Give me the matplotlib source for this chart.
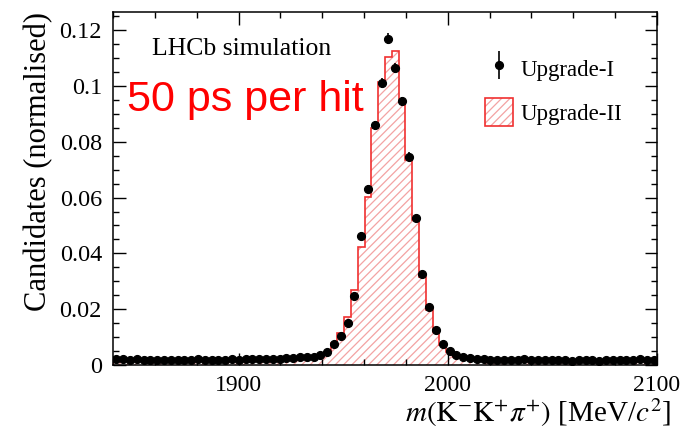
import numpy as np
import matplotlib
matplotlib.use('Agg')
import matplotlib.pyplot as plt
from matplotlib.ticker import MultipleLocator
from matplotlib.patches import Patch
from matplotlib.legend_handler import HandlerErrorbar

# binning of m(K-K+pi+), 80 bins of 3.25 MeV
mass_lo = 1840
mass_hi = 2100
n_bins = 80

# Upgrade-I (points), normalised candidates per bin
upgrade_1 = [0.0022, 0.0021, 0.0019, 0.0020, 0.0018, 0.0019, 0.0017, 0.0018, 0.0019, 0.0018,
             0.0017, 0.0018, 0.0020, 0.0018, 0.0019, 0.0018, 0.0019, 0.0020, 0.0019, 0.0021,
             0.0020, 0.0021, 0.0022, 0.0021, 0.0023, 0.0024, 0.0026, 0.0027, 0.0030, 0.0028,
             0.0036, 0.0048, 0.0075, 0.0104, 0.0152, 0.0247, 0.0462, 0.0630, 0.0859, 0.1012,
             0.1170, 0.1065, 0.0945, 0.0747, 0.0526, 0.0326, 0.0207, 0.0125, 0.0075, 0.0050,
             0.0036, 0.0029, 0.0025, 0.0021, 0.0020, 0.0019, 0.0018, 0.0017, 0.0018, 0.0019,
             0.0020, 0.0019, 0.0018, 0.0017, 0.0017, 0.0018, 0.0017, 0.0016, 0.0018, 0.0017,
             0.0018, 0.0016, 0.0017, 0.0017, 0.0018, 0.0017, 0.0018, 0.0020, 0.0019, 0.0019]

upgrade_1_err = [0.0003] * 30 + [0.0004, 0.0005, 0.0006, 0.0007, 0.0008, 0.0010, 0.0013, 0.0015,
                                 0.0017, 0.0018, 0.0019, 0.0018, 0.0017, 0.0015, 0.0013, 0.0010,
                                 0.0008, 0.0007, 0.0006, 0.0005] + [0.0003] * 30

# Upgrade-II (hatched histogram)
upgrade_2 = [0.0015, 0.0015, 0.0014, 0.0015, 0.0014, 0.0015, 0.0014, 0.0015, 0.0015, 0.0014,
             0.0014, 0.0015, 0.0016, 0.0015, 0.0015, 0.0015, 0.0016, 0.0016, 0.0016, 0.0017,
             0.0017, 0.0018, 0.0018, 0.0018, 0.0019, 0.0020, 0.0021, 0.0021, 0.0022, 0.0025,
             0.0030, 0.0048, 0.0079, 0.0115, 0.0173, 0.0269, 0.0424, 0.0603, 0.0848, 0.1015,
             0.1105, 0.1125, 0.0950, 0.0735, 0.0520, 0.0317, 0.0197, 0.0119, 0.0072, 0.0045,
             0.0030, 0.0024, 0.0020, 0.0018, 0.0017, 0.0016, 0.0016, 0.0015, 0.0015, 0.0015,
             0.0016, 0.0015, 0.0015, 0.0014, 0.0014, 0.0015, 0.0014, 0.0014, 0.0015, 0.0014,
             0.0015, 0.0014, 0.0014, 0.0014, 0.0015, 0.0014, 0.0015, 0.0016, 0.0015, 0.0015]

x_ticks = [1900, 2000, 2100]


def main():
    plt.rcParams['font.family'] = 'Liberation Serif'
    plt.rcParams['mathtext.fontset'] = 'stix'
    plt.rcParams['hatch.linewidth'] = 0.9

    edges = np.linspace(mass_lo, mass_hi, n_bins + 1)
    centers = 0.5 * (edges[1:] + edges[:-1])

    fig = plt.figure(figsize=(6.85, 4.30), dpi=100)
    ax = fig.add_axes([113 / 685, 65 / 430, 544 / 685, 353 / 430])

    hatch_col = '#f3a3a3'
    ax.hist(centers, bins=edges, weights=upgrade_2, histtype='stepfilled',
            facecolor='white', edgecolor=hatch_col, hatch='////', linewidth=0)
    ax.hist(centers, bins=edges, weights=upgrade_2, histtype='step',
            color='#f03030', linewidth=1.2)
    eb = ax.errorbar(centers, upgrade_1, yerr=upgrade_1_err, fmt='o', color='black',
                     markersize=5.6, elinewidth=1.2, capsize=0)

    ax.set_xlim(mass_lo, mass_hi)
    ax.set_ylim(0, 0.1265)
    ax.set_xticks(x_ticks)
    ax.xaxis.set_minor_locator(MultipleLocator(20))
    ax.yaxis.set_minor_locator(MultipleLocator(0.005))
    ax.set_yticks([0, 0.02, 0.04, 0.06, 0.08, 0.1, 0.12])
    ax.set_yticklabels(['0', '0.02', '0.04', '0.06', '0.08', '0.1', '0.12'])

    ax.tick_params(which='both', direction='in', top=True, right=True, width=1.0)
    ax.tick_params(which='major', length=9, labelsize=17.5, pad=8)
    ax.tick_params(axis='x', which='major', labelsize=17, pad=7)
    ax.tick_params(which='minor', length=4.5)
    for s in ax.spines.values():
        s.set_linewidth(1.1)

    ax.set_ylabel('Candidates (normalised)', fontsize=22, loc='top')
    ax.yaxis.set_label_coords(-0.11, 1.0)
    ax.set_xlabel(r'$m(\mathrm{K^{-}K^{+}}\pi^{+})$ [MeV/$c^{2}$]', fontsize=21, loc='right')
    ax.xaxis.set_label_coords(1.026, -0.09)

    fig.text(152 / 685, 1 - 49 / 430, 'LHCb simulation', fontsize=18.5,
             ha='left', va='center')

    handles = [eb, (Patch(facecolor='white', edgecolor=hatch_col, hatch='////', linewidth=0),
                    Patch(facecolor='none', edgecolor='#f03030', linewidth=1.2))]
    ax.legend(handles, ['Upgrade-I', 'Upgrade-II'], loc='upper left',
              bbox_to_anchor=(474 / 685, 1 - 43 / 430), bbox_transform=fig.transFigure,
              frameon=False, fontsize=16.5, borderpad=0, handlelength=1.2,
              handleheight=1.5, labelspacing=0.7, handletextpad=0.32,
              handler_map={eb: HandlerErrorbar(yerr_size=0.6)})

    fig.text(127 / 685, 1 - 100 / 430, '50 ps per hit', fontsize=31, color='red',
             family='Liberation Sans', ha='left', va='center')

    fig.savefig('out.png', dpi=100)


if __name__ == '__main__':
    main()
